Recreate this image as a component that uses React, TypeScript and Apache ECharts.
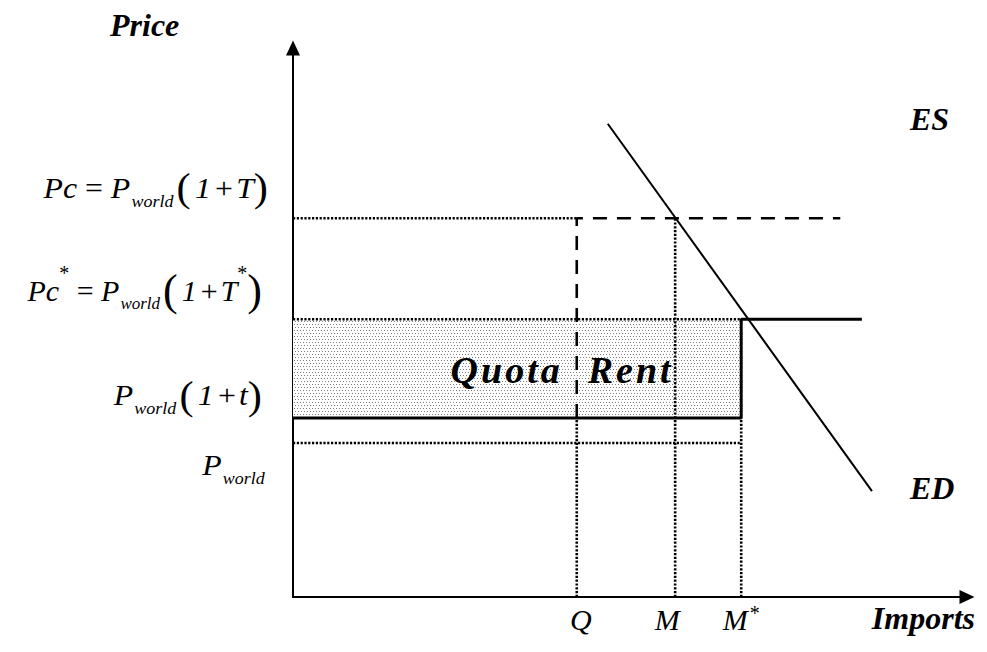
import React, { useEffect, useRef } from "react";
import * as echarts from "echarts";

// ---- data (abstract units on 0..100 axes) ----
const quantityNames = ["Q", "M", "M*"];
const quantityValues = [42.1, 56.7, 66.5];
const priceNames = ["Pc", "Pc*", "Pworld(1+t)", "Pworld"];
const priceValues = [69.0, 50.6, 32.6, 28.05];
const edXs = [46.7, 85.9];
const edYs = [86.2, 19.3];
const tariffSupplyEnd = [81.2];
const quotaSupplyEnd = [84.4];
const axisMax = [100, 100];

const FONT = "'Liberation Serif', 'Times New Roman', serif";

function stippleURL(): string {
  const c = document.createElement("canvas");
  c.width = 6;
  c.height = 6;
  const ctx = c.getContext("2d");
  if (!ctx) return "";
  ctx.fillStyle = "#ffffff";
  ctx.fillRect(0, 0, 6, 6);
  ctx.fillStyle = "#7c7c7c";
  ctx.fillRect(0, 0, 1, 1);
  ctx.fillRect(3, 0, 1, 1);
  ctx.fillRect(1, 3, 1, 1);
  ctx.fillRect(4, 3, 1, 1);
  return c.toDataURL();
}

const base = { fontFamily: FONT, fill: "#000" };
const mathRich: any = {
  it: { ...base, fontSize: 30, fontStyle: "italic", lineHeight: 46 },
  one: { ...base, fontSize: 30, fontStyle: "italic", lineHeight: 46, padding: [0, 1, 0, 4] },
  rm: { ...base, fontSize: 30, lineHeight: 46 },
  pl: { ...base, fontSize: 30, lineHeight: 46, padding: [0, 3, 0, 3] },
  par: { ...base, fontSize: 40, lineHeight: 46 },
  parB: { ...base, fontSize: 44, lineHeight: 46 },
  sub: { ...base, fontSize: 17, fontStyle: "italic", height: 20, lineHeight: 20, verticalAlign: "bottom", padding: [0, 3, 0, 1] },
  sup: { ...base, fontSize: 20, height: 12, lineHeight: 12, verticalAlign: "top" },
  supm: { ...base, fontSize: 20, height: 34, lineHeight: 34, verticalAlign: "top", padding: [0, 0, 0, 2] },
};

const priceRichTexts = [
  "{it|Pc}{rm| = }{it|P}{sub|world}{par|(}{one|1}{pl|+}{it|T}{par|)}",
  "{it|Pc}{sup|*}{rm| = }{it|P}{sub|world}{parB|(}{one|1}{pl|+}{it|T}{sup|*}{parB|)}",
  "{it|P}{sub|world}{par|(}{one|1}{pl|+}{it|t}{par|)}",
  "{it|P}{sub|world}",
];

function spaced(word: string): string {
  return word
    .split("")
    .map((ch, i) => (i < word.length - 1 ? `{s|${ch}}` : `{e|${ch}}`))
    .join("");
}

export default function App() {
  const ref = useRef<HTMLDivElement>(null);

  useEffect(() => {
    document.body.style.margin = "0";
    if (!ref.current) return;
    const chart = echarts.init(ref.current, undefined, { renderer: "svg" });

    const [Q, M, Ms] = quantityValues;
    const [Pc, PcS, Pt, Pw] = priceValues;
    const dotted = { color: "#000", width: 2.6, type: [2.2, 1.6] as any };
    const dashed = { color: "#000", width: 2.6, type: [14, 10] as any };
    const solid = { color: "#000", width: 3, type: "solid" as any };

    const seg = (name: string, data: number[][], lineStyle: any, extra: any = {}) => ({
      name,
      type: "line",
      data,
      symbol: "none",
      showSymbol: false,
      silent: true,
      lineStyle,
      z: 3,
      ...extra,
    });

    const axisCommon = {
      type: "value",
      min: 0,
      axisLabel: { show: false },
      axisTick: { show: false },
      splitLine: { show: false },
      axisLine: {
        show: true,
        onZero: false,
        symbol: ["none", "triangle"],
        symbolSize: [14, 15],
        lineStyle: { color: "#000", width: 2 },
      },
    };

    chart.setOption({
      animation: false,
      backgroundColor: "#ffffff",
      grid: { left: 293, right: 20, top: 48, bottom: 55 },
      xAxis: { ...axisCommon, max: axisMax[0] },
      yAxis: { ...axisCommon, max: axisMax[1] },
      series: [
        seg("shade", [], { width: 0 }, {
          z: 1,
          markArea: {
            silent: true,
            itemStyle: { color: { image: stippleURL(), repeat: "repeat" } },
            data: [[{ coord: [0, PcS] }, { coord: [Ms, Pt] }]],
          },
        }),
        seg("Pc dotted", [[0, Pc], [Q, Pc]], dotted),
        seg("ES tariff", [[Q, Pt], [Q, Pc], [tariffSupplyEnd[0], Pc]], dashed),
        seg("Q dotted", [[Q, 0], [Q, Pt]], dotted),
        seg("M dotted", [[M, 0], [M, Pc]], dotted),
        seg("Pc* dotted", [[0, PcS], [Ms, PcS]], dotted),
        seg("ES quota", [[0, Pt], [Ms, Pt], [Ms, PcS], [quotaSupplyEnd[0], PcS]], solid),
        seg("M* dotted", [[Ms, 0], [Ms, Pt]], dotted),
        seg("Pw dotted", [[0, Pw], [Ms, Pw]], dotted),
        seg("ED", [[edXs[0], edYs[0]], [edXs[1], edYs[1]]], { color: "#000", width: 2 }),
      ],
    });

    const px = (x: number, y: number) => chart.convertToPixel({ gridIndex: 0 }, [x, y]) as number[];
    const origin = px(0, 0);
    const top = px(0, axisMax[1]);
    const right = px(axisMax[0], 0);
    const edEnd = px(edXs[1], edYs[1]);

    const graphics: any[] = [];
    const boldIt = { fontFamily: FONT, fontSize: 32, fontStyle: "italic", fontWeight: "bold", fill: "#000" };

    // axis titles and curve names
    graphics.push({ type: "text", x: origin[0] - 183, y: top[1] - 23.5, style: { ...boldIt, text: "Price", align: "left", verticalAlign: "middle" } });
    graphics.push({ type: "text", x: right[0] + 8, y: origin[1] + 21, style: { ...boldIt, text: "Imports", align: "right", verticalAlign: "middle" } });
    graphics.push({ type: "text", x: edEnd[0] + 38, y: top[1] + 71, style: { ...boldIt, text: "ES", align: "left", verticalAlign: "middle" } });
    graphics.push({ type: "text", x: edEnd[0] + 38, y: edEnd[1] - 3.5, style: { ...boldIt, text: "ED", align: "left", verticalAlign: "middle" } });

    // price labels
    const rightOff = [25, 31, 31, 25];
    const dy = [-30.5, -29, -23, 22];
    const sx = [1.06, 1.0, 1.06, 1.06];
    priceValues.forEach((v, i) => {
      const p = px(0, v);
      graphics.push({
        type: "text",
        x: p[0] - rightOff[i],
        y: p[1] + dy[i],
        scaleX: sx[i],
        style: { text: priceRichTexts[i], rich: mathRich, align: "right", verticalAlign: "middle" },
      });
    });

    // quantity labels
    const qOff = [4, -8, 0];
    quantityNames.forEach((n, i) => {
      const p = px(quantityValues[i], 0);
      const txt = n.endsWith("*") ? `{it|${n.slice(0, -1)}}{supm|*}` : `{it|${n}}`;
      graphics.push({
        type: "text",
        x: p[0] + qOff[i],
        y: p[1] + 22,
        style: { text: txt, rich: mathRich, align: "center", verticalAlign: "middle" },
      });
    });

    // Quota Rent
    const qp = px(Q, (PcS + Pt) / 2);
    const spRich = {
      s: { fontFamily: FONT, fontSize: 38, fontStyle: "italic", fontWeight: "bold", fill: "#000", padding: [0, 3, 0, 0] },
      e: { fontFamily: FONT, fontSize: 38, fontStyle: "italic", fontWeight: "bold", fill: "#000" },
    };
    graphics.push({ type: "text", z: 10, x: qp[0] - 17, y: qp[1] + 1.5, style: { text: spaced("Quota"), rich: spRich, align: "right", verticalAlign: "middle" } });
    graphics.push({ type: "text", z: 10, x: qp[0] + 11, y: qp[1] + 1.5, style: { text: spaced("Rent"), rich: spRich, align: "left", verticalAlign: "middle" } });

    chart.setOption({ graphic: graphics });

    return () => chart.dispose();
  }, []);

  return <div ref={ref} style={{ width: 987, height: 652 }} />;
}
